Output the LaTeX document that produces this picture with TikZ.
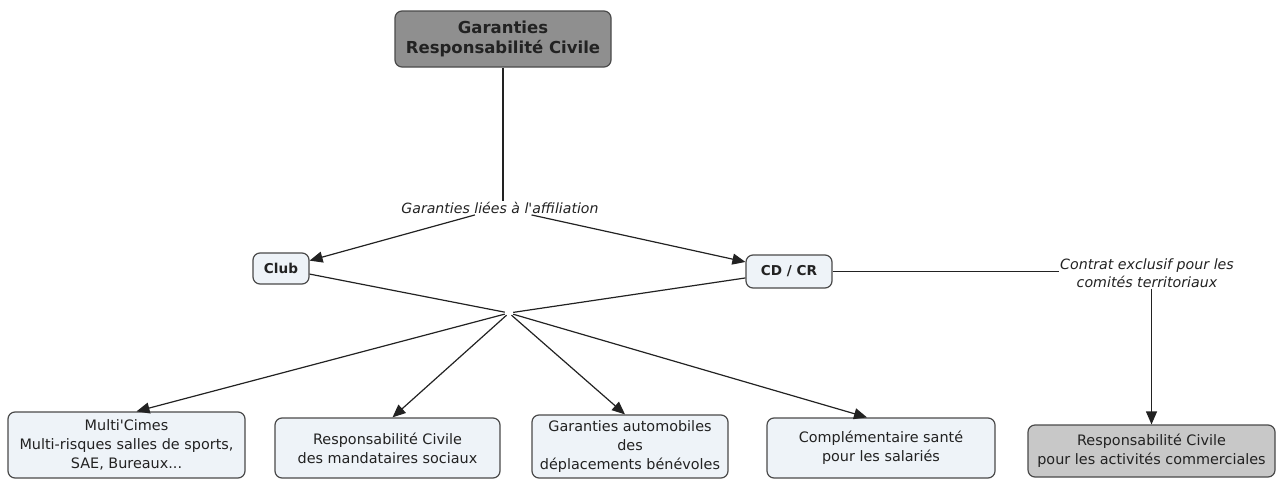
\documentclass[tikz,border=0pt]{standalone}
\usepackage{fontspec}
\setmainfont{DejaVu Sans}
\usetikzlibrary{arrows.meta}
\definecolor{boxfill}{HTML}{EEF3F8}
\definecolor{darkfill}{HTML}{8F8F8F}
\definecolor{midfill}{HTML}{C8C8C8}
\definecolor{edge}{HTML}{4A4A4A}
\definecolor{ink}{HTML}{222222}
\tikzset{
  cbox/.style={draw=edge, line width=1.2pt, rounded corners=7pt, fill=boxfill, align=center,
    inner sep=0pt, text=ink, font=\fontsize{14.4}{19}\selectfont},
  lbl/.style={align=center, inner sep=1pt, text=ink, font=\fontsize{14.1}{19}\selectfont\itshape},
  conn/.style={draw=ink, line width=1.2pt},
  arr/.style={conn, -{Triangle[length=13pt,width=11pt]}},
}
\begin{document}
\begin{tikzpicture}[x=1pt,y=-1pt]
\useasboundingbox (0,0) rectangle (1276,479);
% nodes
\node[cbox, fill=darkfill, minimum width=216pt, minimum height=56pt,
  font=\fontsize{16.5}{20}\selectfont\bfseries] (top) at (503,39) {Garanties\\Responsabilité Civile};
\node[lbl] (aff) at (500,208) {Garanties liées à l\textquotesingle affiliation};
\node[cbox, minimum width=56pt, minimum height=31pt, font=\fontsize{13.6}{15}\selectfont\bfseries] (club) at (281,268.5) {Club};
\node[cbox, minimum width=86pt, minimum height=33pt, font=\fontsize{13.6}{15}\selectfont\bfseries] (cdcr) at (789,271.5) {CD / CR};
\node[lbl, font=\fontsize{14.2}{18}\selectfont\itshape] (contrat) at (1147,273) {Contrat exclusif pour les\\comités territoriaux};
\node[inner sep=0pt, minimum width=8pt, minimum height=4pt] (link) at (509,313) {};
\node[cbox, minimum width=237pt, minimum height=66pt] (multi) at (126.5,445) {Multi\textquotesingle Cimes\\Multi-risques salles de sports,\\SAE, Bureaux...};
\node[cbox, minimum width=225pt, minimum height=60pt] (rcm) at (387.5,448) {Responsabilité Civile\\des mandataires sociaux};
\node[cbox, minimum width=196pt, minimum height=63pt] (auto) at (630,446.5) {Garanties automobiles\\des\\déplacements bénévoles};
\node[cbox, minimum width=228pt, minimum height=60pt] (comp) at (881,448) {Complémentaire santé\\pour les salariés};
\node[cbox, fill=midfill, minimum width=247pt, minimum height=52pt] (rcc) at (1151.5,451) {Responsabilité Civile\\pour les activités commerciales};
% connectors
\draw[conn] (top.south) -- (top.south |- aff.north);
\draw[arr] (aff) -- (club);
\draw[arr] (aff) -- (cdcr);
\draw[conn] (club) -- (link);
\draw[conn] (cdcr) -- (link);
\draw[conn] (cdcr.east) -- (cdcr.east -| contrat.west);
\draw[arr] (contrat.south -| rcc.north) -- (rcc.north);
\draw[arr] (link) -- ([xshift=10pt]multi.north);
\draw[arr] (link) -- ([xshift=5pt]rcm.north);
\draw[arr] (link) -- ([xshift=-5pt]auto.north);
\draw[arr] (link) -- ([xshift=-14pt]comp.north);
\end{tikzpicture}
\end{document}
